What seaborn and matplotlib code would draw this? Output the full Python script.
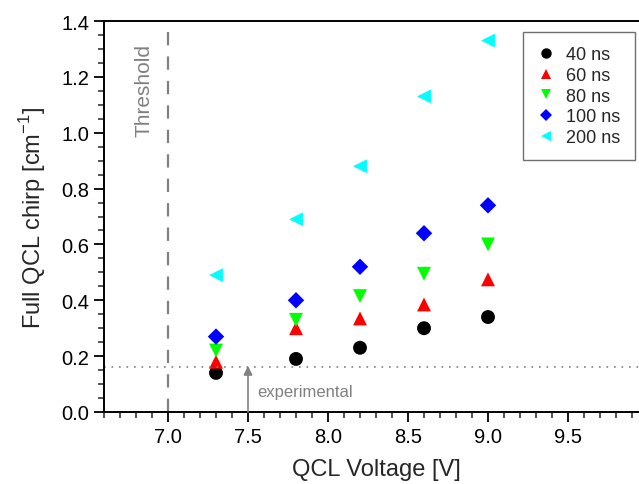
import pandas as pd
import matplotlib.pyplot as plt
import seaborn as sns

# Dữ liệu
voltage = [7.3, 7.8, 8.2, 8.6, 9.0]
chirp_40 = [0.14, 0.19, 0.23, 0.30, 0.34]
chirp_60 = [0.18, 0.30, 0.335, 0.385, 0.475]
chirp_80 = [0.22, 0.33, 0.415, 0.495, 0.60]
chirp_100 = [0.27, 0.40, 0.52, 0.64, 0.74]
chirp_200 = [0.49, 0.69, 0.88, 1.13, 1.33]
pulse_labels = ['40 ns', '60 ns', '80 ns', '100 ns', '200 ns']
threshold_v = 7.0
experimental_chirp = 0.16

series = [chirp_40, chirp_60, chirp_80, chirp_100, chirp_200]
df = pd.concat([
    pd.DataFrame({'voltage': voltage, 'chirp': vals, 'pulse': lab})
    for lab, vals in zip(pulse_labels, series)
], ignore_index=True)

colors = dict(zip(pulse_labels, ['black', '#ff0000', '#00ff00', '#0000ff', '#00ffff']))
markers = dict(zip(pulse_labels, ['o', '^', 'v', 'D', '<']))
sizes = dict(zip(pulse_labels, [100, 100, 100, 70, 100]))

sns.set_style('ticks')
plt.rcParams['font.family'] = ['Liberation Sans', 'DejaVu Sans']

fig = plt.figure(figsize=(6.39, 4.85), dpi=100)
ax = fig.add_axes([104 / 639, 72 / 485, 544 / 639, 391 / 485])

sns.scatterplot(data=df, x='voltage', y='chirp', hue='pulse', style='pulse',
                size='pulse', sizes=sizes,
                hue_order=pulse_labels, style_order=pulse_labels,
                size_order=pulse_labels,
                palette=colors, markers=markers, linewidth=0, ax=ax)

# ── Đường ngưỡng và mức thực nghiệm ──
ax.axvline(threshold_v, color='#808080', ls=(0, (6, 5)), lw=1.6, zorder=1)
ax.axhline(experimental_chirp, color='#808080', ls=(0, (1, 3.5)), lw=1.2, zorder=1)
ax.annotate('', xy=(7.5, experimental_chirp + 0.005), xytext=(7.5, 0.0),
            arrowprops=dict(arrowstyle='-|>', color='#808080', lw=1.2,
                            mutation_scale=13, shrinkA=0, shrinkB=0))
ax.text(7.56, 0.075, 'experimental', color='#808080', fontsize=12,
        va='center', ha='left')
ax.text(6.85, 1.32, 'Threshold', color='#808080', fontsize=15,
        rotation=90, va='top', ha='center')

ax.set_xlim(6.6, 10.0)
ax.set_ylim(0, 1.4)
ax.set_xticks([7.0, 7.5, 8.0, 8.5, 9.0, 9.5])
ax.set_xticks([x / 10 for x in range(66, 100)], minor=True)
ax.set_yticks([0.0, 0.2, 0.4, 0.6, 0.8, 1.0, 1.2, 1.4])
ax.set_yticks([y / 20 for y in range(0, 29)], minor=True)
ax.set_xticklabels(['7.0', '7.5', '8.0', '8.5', '9.0', '9.5'])
ax.set_yticklabels(['0.0', '0.2', '0.4', '0.6', '0.8', '1.0', '1.2', '1.4'])
ax.tick_params(axis='both', which='major', direction='out', length=7, width=1.3,
               labelsize=14.5, colors='black', top=False, right=False)
ax.tick_params(axis='both', which='minor', direction='out', length=4, width=1.1,
               top=False, right=False)
for sp in ['left', 'bottom', 'top']:
    ax.spines[sp].set_visible(True)
    ax.spines[sp].set_linewidth(1.4)
    ax.spines[sp].set_color('black')
ax.spines['right'].set_visible(False)

ax.set_xlabel('QCL Voltage [V]', fontsize=17, labelpad=9)
ax.set_ylabel('Full QCL chirp [cm$^{\\mathregular{-1}}$]', fontsize=17, labelpad=10)

handles, labels = ax.get_legend_handles_labels()
leg = ax.legend(handles, labels, loc='upper right', fontsize=13,
                bbox_to_anchor=(635 / 639, 1 - 33 / 485),
                bbox_transform=fig.transFigure, borderaxespad=0,
                fancybox=False, edgecolor='#707070', framealpha=1,
                markerscale=0.75, handletextpad=0.6, borderpad=0.8,
                labelspacing=0.2, handlelength=1.0)
leg.get_frame().set_linewidth(1.0)

fig.savefig('out.png', dpi=100)
